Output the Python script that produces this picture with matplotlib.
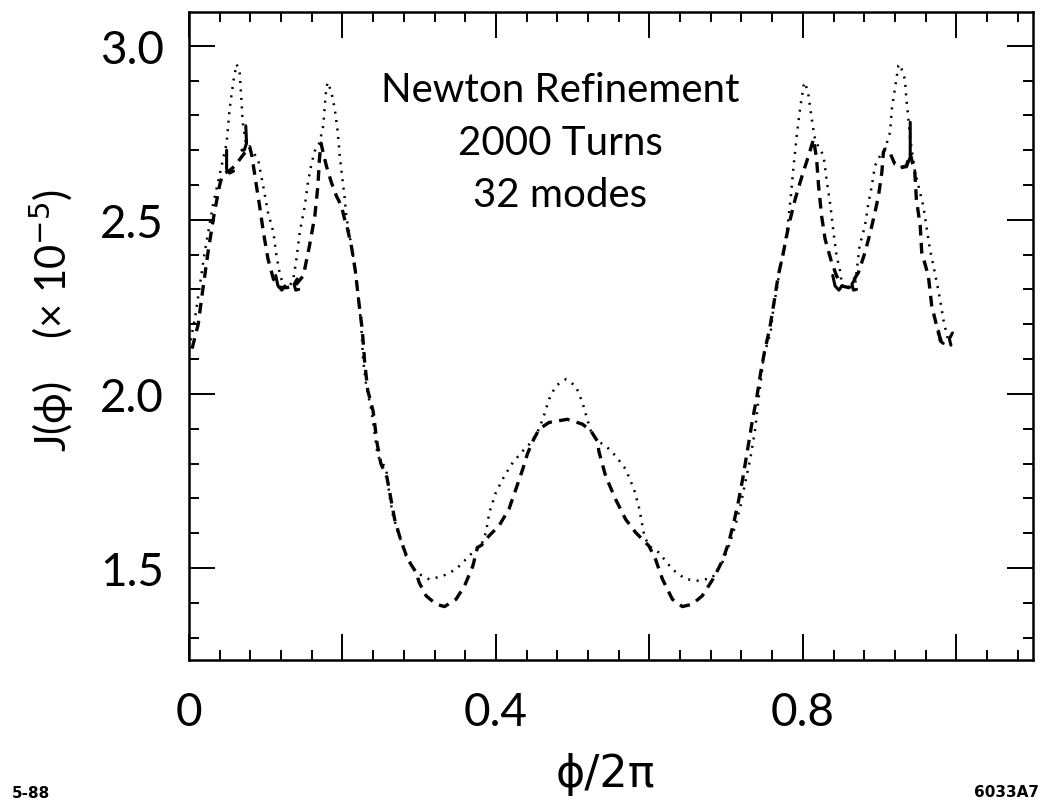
import numpy as np
import matplotlib.pyplot as plt
from matplotlib.ticker import MultipleLocator, FixedLocator, FixedFormatter

# dotted trace  (phi/2pi , J x 1e5)
dot_x = [0.000, 0.008, 0.020, 0.031, 0.040, 0.049, 0.053, 0.058, 0.062, 0.066,
         0.068, 0.070, 0.074, 0.080, 0.090, 0.0966, 0.103, 0.110, 0.114, 0.118,
         0.123, 0.130, 0.136, 0.140, 0.1443, 0.151, 0.155, 0.160, 0.166, 0.170,
         0.175, 0.177, 0.179, 0.181, 0.1856, 0.190, 0.194, 0.1964, 0.200, 0.203,
         0.205, 0.2116, 0.216, 0.220, 0.2245, 0.2268, 0.231, 0.238, 0.243, 0.246,
         0.257, 0.2614, 0.266, 0.274, 0.283, 0.296, 0.3134, 0.331, 0.348, 0.361,
         0.376, 0.381, 0.387, 0.3914, 0.400, 0.411, 0.422, 0.435, 0.4456, 0.454,
         0.461, 0.4694, 0.478, 0.491, 0.504, 0.5128, 0.519, 0.5237, 0.532, 0.543,
         0.556, 0.569, 0.580, 0.587, 0.5934, 0.5995, 0.6125, 0.630, 0.647, 0.6645,
         0.682, 0.695, 0.7035, 0.712, 0.7187, 0.725, 0.732, 0.738, 0.742, 0.746,
         0.749, 0.758, 0.762, 0.766, 0.771, 0.775, 0.780, 0.784, 0.788, 0.7925,
         0.797, 0.801, 0.803, 0.8075, 0.8117, 0.815, 0.818, 0.827, 0.8315, 0.836,
         0.840, 0.844, 0.849, 0.851, 0.860, 0.868, 0.874, 0.881, 0.8856, 0.890,
         0.894, 0.9007, 0.907, 0.9137, 0.916, 0.920, 0.9246, 0.9267, 0.933, 0.935,
         0.9376, 0.940, 0.946, 0.9506, 0.957, 0.961, 0.9656, 0.972, 0.9788, 0.983,
         0.987, 0.990]
dot_y = [2.13, 2.22, 2.40, 2.54, 2.63, 2.72, 2.82, 2.90, 2.947, 2.924,
         2.856, 2.78, 2.72, 2.705, 2.674, 2.598, 2.521, 2.464, 2.397, 2.349,
         2.31, 2.305, 2.33, 2.387, 2.464, 2.54, 2.607, 2.665, 2.713, 2.72,
         2.77, 2.828, 2.88, 2.895, 2.866, 2.818, 2.75, 2.684, 2.617, 2.56,
         2.511, 2.425, 2.368, 2.291, 2.20, 2.10, 2.023, 1.95, 1.87, 1.822,
         1.784, 1.707, 1.649, 1.592, 1.534, 1.487, 1.467, 1.477, 1.496, 1.525,
         1.559, 1.565, 1.602, 1.659, 1.717, 1.764, 1.803, 1.836, 1.86, 1.889,
         1.927, 1.985, 2.023, 2.042, 2.023, 1.975, 1.927, 1.894, 1.865, 1.851,
         1.822, 1.784, 1.726, 1.669, 1.592, 1.563, 1.544, 1.496, 1.468, 1.463,
         1.472, 1.515, 1.563, 1.621, 1.678, 1.745, 1.82, 1.90, 1.98, 2.05,
         2.109, 2.176, 2.253, 2.30, 2.368, 2.406, 2.48, 2.559, 2.655, 2.751,
         2.828, 2.885, 2.895, 2.856, 2.789, 2.74, 2.72, 2.684, 2.607, 2.54,
         2.464, 2.397, 2.349, 2.31, 2.305, 2.31, 2.425, 2.483, 2.55, 2.598,
         2.655, 2.684, 2.703, 2.751, 2.818, 2.876, 2.943, 2.947, 2.904, 2.847,
         2.789, 2.732, 2.64, 2.598, 2.54, 2.483, 2.416, 2.349, 2.272, 2.215,
         2.176, 2.15]

# dashed trace
dash_x = [0.004, 0.012, 0.018, 0.025, 0.033, 0.040, 0.043, 0.047, 0.052, 0.060,
          0.070, 0.079, 0.082, 0.0865, 0.092, 0.097, 0.103, 0.110, 0.118, 0.127,
          0.138, 0.149, 0.157, 0.164, 0.168, 0.170, 0.172, 0.179, 0.1856, 0.192,
          0.1986, 0.2028, 0.205, 0.212, 0.217, 0.221, 0.226, 0.229, 0.233, 0.240,
          0.245, 0.250, 0.258, 0.263, 0.268, 0.276, 0.285, 0.296, 0.300, 0.309,
          0.322, 0.333, 0.348, 0.359, 0.370, 0.376, 0.381, 0.391, 0.404, 0.417,
          0.426, 0.435, 0.441, 0.447, 0.4564, 0.4694, 0.493, 0.5128, 0.5237, 0.532,
          0.5345, 0.543, 0.556, 0.569, 0.582, 0.591, 0.5995, 0.608, 0.617, 0.630,
          0.643, 0.656, 0.669, 0.680, 0.684, 0.695, 0.703, 0.710, 0.716, 0.722,
          0.728, 0.734, 0.740, 0.745, 0.750, 0.757, 0.763, 0.768, 0.775, 0.7815,
          0.790, 0.799, 0.8075, 0.814, 0.818, 0.8205, 0.8245, 0.829, 0.8375, 0.844,
          0.851, 0.860, 0.8726, 0.881, 0.888, 0.894, 0.8986, 0.903, 0.905, 0.907,
          0.912, 0.920, 0.929, 0.935, 0.940, 0.946, 0.948, 0.953, 0.955, 0.9636,
          0.968, 0.9766, 0.981]
dash_y = [2.13, 2.20, 2.30, 2.41, 2.52, 2.60, 2.625, 2.635, 2.64, 2.655,
          2.685, 2.71, 2.684, 2.617, 2.54, 2.464, 2.387, 2.33, 2.306, 2.305,
          2.31, 2.339, 2.425, 2.511, 2.598, 2.674, 2.72, 2.655, 2.607, 2.569,
          2.54, 2.502, 2.49, 2.42, 2.35, 2.27, 2.18, 2.09, 2.01, 1.95,
          1.86, 1.80, 1.76, 1.70, 1.64, 1.58, 1.525, 1.487, 1.458, 1.42,
          1.396, 1.389, 1.41, 1.448, 1.506, 1.559, 1.565, 1.592, 1.621, 1.669,
          1.726, 1.784, 1.827, 1.86, 1.899, 1.918, 1.927, 1.913, 1.894, 1.865,
          1.832, 1.764, 1.697, 1.64, 1.602, 1.582, 1.563, 1.525, 1.468, 1.41,
          1.389, 1.396, 1.42, 1.458, 1.472, 1.52, 1.57, 1.63, 1.69, 1.76,
          1.84, 1.92, 1.99, 2.06, 2.12, 2.19, 2.27, 2.34, 2.41, 2.483,
          2.559, 2.626, 2.684, 2.732, 2.674, 2.598, 2.511, 2.445, 2.378, 2.339,
          2.31, 2.305, 2.349, 2.406, 2.464, 2.521, 2.569, 2.636, 2.694, 2.703,
          2.70, 2.66, 2.65, 2.655, 2.69, 2.636, 2.559, 2.483, 2.406, 2.339,
          2.253, 2.176, 2.148]

# small solid hooks where the two traces join (NaN separates them)
hook_x = [0.049, 0.049, 0.053, 0.058, np.nan,
          0.074, 0.075, 0.072, 0.069, np.nan,
          0.113, 0.116, 0.121, 0.125, np.nan,
          0.141, 0.137, 0.139, 0.143, np.nan,
          0.839, 0.842, 0.847, 0.851, np.nan,
          0.868, 0.864, 0.866, 0.870, np.nan,
          0.940, 0.940, 0.935, 0.929, np.nan,
          0.977, 0.979, 0.983, np.nan,
          0.995, 0.991, 0.993]
hook_y = [2.70, 2.645, 2.634, 2.64, np.nan,
          2.77, 2.72, 2.70, 2.70, np.nan,
          2.34, 2.31, 2.298, 2.31, np.nan,
          2.33, 2.315, 2.298, 2.30, np.nan,
          2.34, 2.31, 2.298, 2.31, np.nan,
          2.33, 2.315, 2.298, 2.30, np.nan,
          2.78, 2.68, 2.652, 2.652, np.nan,
          2.18, 2.152, 2.145, np.nan,
          2.175, 2.158, 2.14]

y_ticks = [1.5, 2.0, 2.5, 3.0]
y_tick_labels = ["1.5", "2.0", "2.5", "3.0"]
x_ticks = [0.0, 0.2, 0.4, 0.6, 0.8, 1.0]
x_tick_labels = ["0", "", "0.4", "", "0.8", ""]

plt.rcParams['font.family'] = ['Lato', 'DejaVu Sans']

fig = plt.figure(figsize=(10.42, 8.04), dpi=100)
ax = fig.add_axes([189 / 1042, 1 - 661 / 804, (1033 - 189) / 1042, (661 - 12.7) / 804])

ax.plot(dot_x, dot_y, color='black', linewidth=1.8, linestyle=(0, (0.8, 2.6)))
ax.plot(dash_x, dash_y, color='black', linewidth=2.4, linestyle=(0, (3.2, 2.2)))
ax.plot(hook_x, hook_y, color='black', linewidth=2.2, solid_capstyle='round')

ax.set_xlim(0, 1.1)
ax.set_ylim(1.2356, 3.0977)

ax.xaxis.set_major_locator(FixedLocator(x_ticks))
ax.xaxis.set_major_formatter(FixedFormatter(x_tick_labels))
ax.xaxis.set_minor_locator(MultipleLocator(0.04))
ax.yaxis.set_major_locator(FixedLocator(y_ticks))
ax.yaxis.set_major_formatter(FixedFormatter(y_tick_labels))
ax.yaxis.set_minor_locator(MultipleLocator(0.1))

ax.tick_params(which='both', direction='in', top=True, right=True, width=1.4)
ax.tick_params(which='major', length=19, labelsize=33)
ax.tick_params(which='minor', length=7)
ax.tick_params(axis='x', which='major', pad=22)
ax.tick_params(axis='y', which='major', pad=18)
for sp in ax.spines.values():
    sp.set_linewidth(1.8)

for txt, yv in [("Newton Refinement", 2.84), ("2000 Turns", 2.69), ("32 modes", 2.54)]:
    ax.text(0.484, yv, txt, ha='center', va='baseline', fontsize=29)

fig.text(52 / 1042, 1 - 320 / 804, "J(ϕ)    (× 10$^{-5}$)", rotation=90,
         ha='center', va='center', fontsize=30)
fig.text(605 / 1042, 1 - 775 / 804, "ϕ/2π", ha='center', va='center',
         fontsize=32, family=['DejaVu Sans'])
fig.text(12 / 1042, 1 - 798 / 804, "5-88", ha='left', va='baseline',
         fontsize=11, fontweight='bold', family=['DejaVu Sans'])
fig.text(1039 / 1042, 1 - 797 / 804, "6033A7", ha='right', va='baseline',
         fontsize=11, fontweight='bold', family=['DejaVu Sans'])

fig.savefig("out.png", dpi=100)
